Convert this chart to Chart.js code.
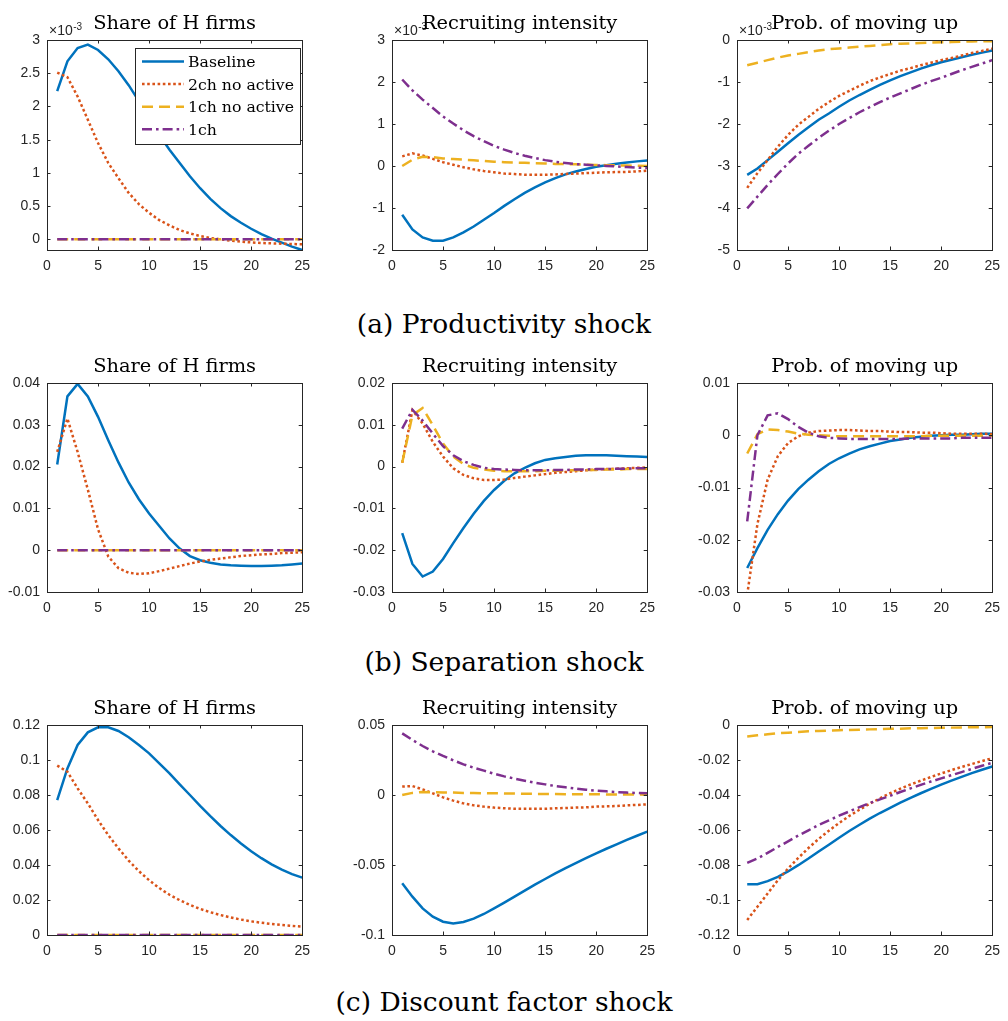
<!DOCTYPE html>
<html>
<head>
<meta charset="utf-8">
<script src="https://cdn.jsdelivr.net/npm/chart.js@4"></script>
<style>
html,body{margin:0;padding:0;background:#fff;}
#page{position:relative;width:1008px;height:1021px;overflow:hidden;background:#fff;}
#page canvas{position:absolute;}
.cap{position:absolute;left:0;width:1008px;text-align:center;font-family:"DejaVu Serif",serif;font-size:26.5px;line-height:26.5px;color:#000;white-space:nowrap;}
</style>
</head>
<body>
<div id="page">
  <div class="cap" style="top:310.6px">(a) Productivity shock</div>
  <div class="cap" style="top:648.6px">(b) Separation shock</div>
  <div class="cap" style="top:988.6px">(c) Discount factor shock</div>
</div>
<script>
// ---------- data ----------
const periods = [1,2,3,4,5,6,7,8,9,10,11,12,13,14,15,16,17,18,19,20,21,22,23,24,25];
const seriesNames = ['Baseline','2ch no active','1ch no active','1ch'];
const panelTitles = ['Share of H firms','Recruiting intensity','Prob. of moving up'];
const rowCaptions = ['(a) Productivity shock','(b) Separation shock','(c) Discount factor shock'];

// (a) Productivity shock  (values in units of 10^-3)
const prodShareBaseline = [2.23,2.68,2.88,2.93,2.85,2.71,2.53,2.32,2.08,1.83,1.57,1.35,1.15,0.95,0.77,0.61,0.47,0.35,0.25,0.16,0.08,0.01,-0.05,-0.11,-0.16];
const prodShare2chNoActive = [2.51,2.44,2.15,1.80,1.45,1.15,0.92,0.70,0.53,0.40,0.29,0.21,0.14,0.09,0.05,0.02,0.0,-0.02,-0.035,-0.045,-0.055,-0.06,-0.065,-0.07,-0.075];
const prodShare1chNoActive = [0,0,0,0,0,0,0,0,0,0,0,0,0,0,0,0,0,0,0,0,0,0,0,0,0];
const prodShare1ch = [0,0,0,0,0,0,0,0,0,0,0,0,0,0,0,0,0,0,0,0,0,0,0,0,0];

const prodRecBaseline = [-1.16,-1.51,-1.70,-1.78,-1.78,-1.70,-1.58,-1.44,-1.28,-1.12,-0.95,-0.79,-0.64,-0.51,-0.39,-0.29,-0.20,-0.13,-0.07,-0.02,0.02,0.055,0.085,0.11,0.13];
const prodRec2chNoActive = [0.23,0.30,0.25,0.17,0.09,0.03,-0.03,-0.08,-0.12,-0.15,-0.18,-0.19,-0.21,-0.21,-0.21,-0.20,-0.19,-0.18,-0.17,-0.16,-0.15,-0.145,-0.14,-0.13,-0.11];
const prodRec1chNoActive = [0.0,0.15,0.22,0.21,0.18,0.165,0.15,0.135,0.12,0.10,0.09,0.08,0.075,0.065,0.06,0.05,0.045,0.04,0.03,0.025,0.02,0.015,0.01,0.005,0.0];
const prodRec1ch = [2.06,1.80,1.58,1.38,1.18,1.01,0.85,0.71,0.59,0.48,0.39,0.31,0.245,0.19,0.14,0.10,0.07,0.045,0.03,0.015,0.0,-0.01,-0.025,-0.04,-0.05];

const prodUpBaseline = [-3.21,-3.06,-2.86,-2.66,-2.46,-2.26,-2.08,-1.90,-1.75,-1.59,-1.44,-1.31,-1.19,-1.07,-0.96,-0.86,-0.77,-0.68,-0.60,-0.53,-0.47,-0.41,-0.35,-0.30,-0.25];
const prodUp2chNoActive = [-3.52,-3.17,-2.86,-2.54,-2.26,-2.02,-1.83,-1.64,-1.48,-1.33,-1.21,-1.09,-0.98,-0.89,-0.81,-0.73,-0.67,-0.60,-0.54,-0.48,-0.43,-0.37,-0.31,-0.26,-0.21];
const prodUp1chNoActive = [-0.60,-0.54,-0.48,-0.42,-0.37,-0.33,-0.29,-0.25,-0.22,-0.20,-0.18,-0.16,-0.14,-0.12,-0.10,-0.09,-0.08,-0.07,-0.06,-0.055,-0.05,-0.04,-0.035,-0.03,-0.03];
const prodUp1ch = [-4.01,-3.73,-3.45,-3.19,-2.94,-2.71,-2.52,-2.33,-2.16,-2.00,-1.86,-1.72,-1.60,-1.48,-1.37,-1.27,-1.17,-1.07,-0.98,-0.90,-0.81,-0.72,-0.64,-0.56,-0.48];

// (b) Separation shock
const sepShareBaseline = [0.0205,0.0368,0.0398,0.0368,0.0319,0.0263,0.0210,0.0162,0.0122,0.0088,0.0058,0.0028,0.0004,-0.0014,-0.0024,-0.0030,-0.0034,-0.0036,-0.0037,-0.0038,-0.0038,-0.0037,-0.0036,-0.0034,-0.0032];
const sepShare2chNoActive = [0.0235,0.0315,0.0235,0.0145,0.0050,-0.0015,-0.0043,-0.0054,-0.0057,-0.0055,-0.0050,-0.0044,-0.0038,-0.0032,-0.0027,-0.0023,-0.0020,-0.0017,-0.0014,-0.0012,-0.0010,-0.0009,-0.0007,-0.0006,-0.0005];
const sepShare1chNoActive = [0,0,0,0,0,0,0,0,0,0,0,0,0,0,0,0,0,0,0,0,0,0,0,0,0];
const sepShare1ch = [0,0,0,0,0,0,0,0,0,0,0,0,0,0,0,0,0,0,0,0,0,0,0,0,0];

const sepRecBaseline = [-0.0159,-0.0233,-0.0263,-0.0251,-0.0221,-0.0183,-0.0147,-0.0113,-0.0082,-0.0056,-0.0034,-0.0016,-0.0003,0.0008,0.0016,0.0020,0.0023,0.0026,0.0027,0.0027,0.0027,0.0026,0.0025,0.0024,0.0023];
const sepRec2chNoActive = [0.0009,0.0135,0.0103,0.0059,0.0024,-0.0004,-0.0020,-0.0028,-0.0032,-0.0032,-0.0031,-0.0027,-0.0024,-0.0021,-0.0018,-0.0015,-0.0013,-0.0011,-0.0009,-0.0007,-0.0006,-0.0005,-0.0004,-0.0003,-0.0002];
const sepRec1chNoActive = [0.0009,0.0123,0.0140,0.0099,0.0055,0.0024,0.0006,-0.0003,-0.0007,-0.0010,-0.0011,-0.0011,-0.0011,-0.0011,-0.0010,-0.0010,-0.0009,-0.0009,-0.0008,-0.0008,-0.0007,-0.0007,-0.0006,-0.0006,-0.0006];
const sepRec1ch = [0.0091,0.0136,0.0110,0.0079,0.0049,0.0027,0.0013,0.0004,-0.0003,-0.0006,-0.0007,-0.0008,-0.0009,-0.0009,-0.0009,-0.0008,-0.0008,-0.0007,-0.0007,-0.0006,-0.0006,-0.0005,-0.0005,-0.0004,-0.0004];

const sepUpBaseline = [-0.0254,-0.0216,-0.0181,-0.0151,-0.0125,-0.0103,-0.0085,-0.0069,-0.0055,-0.0044,-0.0035,-0.0027,-0.0021,-0.0016,-0.0011,-0.0008,-0.0005,-0.0003,-0.0001,0.0000,0.0001,0.0001,0.0002,0.0003,0.0003];
const sepUp2chNoActive = [-0.0305,-0.0170,-0.0085,-0.0040,-0.0015,-0.0002,0.0005,0.0008,0.0009,0.0010,0.0010,0.0009,0.0008,0.0008,0.0007,0.0006,0.0006,0.0005,0.0005,0.0004,0.0003,0.0003,0.0003,0.0003,0.0002];
const sepUp1chNoActive = [-0.0035,0.0002,0.0011,0.0010,0.0007,0.0003,0.0001,0.0000,-0.0001,-0.0002,-0.0002,-0.0002,-0.0002,-0.0002,-0.0002,-0.0002,-0.0002,-0.0002,-0.0001,-0.0001,-0.0001,-0.0001,-0.0001,-0.0001,-0.0001];
const sepUp1ch = [-0.0165,0.0000,0.0038,0.0042,0.0031,0.0016,0.0005,-0.0002,-0.0005,-0.0006,-0.0007,-0.0007,-0.0007,-0.0007,-0.0007,-0.0007,-0.0006,-0.0006,-0.0006,-0.0006,-0.0006,-0.0005,-0.0005,-0.0005,-0.0005];

// (c) Discount factor shock
const discShareBaseline = [0.0771,0.0952,0.1086,0.1158,0.1187,0.1187,0.1166,0.1130,0.1086,0.1038,0.0981,0.0924,0.0861,0.0800,0.0738,0.0679,0.0623,0.0571,0.0523,0.0479,0.0439,0.0404,0.0373,0.0348,0.0328];
const discShare2chNoActive = [0.0968,0.0933,0.0838,0.0752,0.0657,0.0571,0.0495,0.0425,0.0365,0.0313,0.0268,0.0230,0.0199,0.0172,0.0149,0.0130,0.0114,0.0100,0.0088,0.0078,0.0070,0.0063,0.0057,0.0052,0.0048];
const discShare1chNoActive = [0,0,0,0,0,0,0,0,0,0,0,0,0,0,0,0,0,0,0,0,0,0,0,0,0];
const discShare1ch = [0,0,0,0,0,0,0,0,0,0,0,0,0,0,0,0,0,0,0,0,0,0,0,0,0];

const discRecBaseline = [-0.0631,-0.0726,-0.0810,-0.0869,-0.0905,-0.0917,-0.0907,-0.0883,-0.0850,-0.0810,-0.0769,-0.0726,-0.0683,-0.0640,-0.0600,-0.0560,-0.0522,-0.0486,-0.0451,-0.0417,-0.0384,-0.0352,-0.0321,-0.0291,-0.0262];
const discRec2chNoActive = [0.0060,0.0064,0.0040,0.0012,-0.0017,-0.0040,-0.0060,-0.0074,-0.0083,-0.0090,-0.0095,-0.0098,-0.0098,-0.0098,-0.0098,-0.0095,-0.0093,-0.0090,-0.0088,-0.0083,-0.0081,-0.0079,-0.0074,-0.0071,-0.0067];
const discRec1chNoActive = [0.0,0.0015,0.0021,0.0020,0.0018,0.0017,0.0015,0.0014,0.0013,0.0012,0.0011,0.0010,0.0009,0.0008,0.0008,0.0007,0.0006,0.0006,0.0005,0.0005,0.0004,0.0004,0.0003,0.0003,0.0002];
const discRec1ch = [0.0440,0.0393,0.0350,0.0312,0.0279,0.0248,0.0219,0.0195,0.0174,0.0152,0.0133,0.0117,0.0102,0.0088,0.0076,0.0064,0.0055,0.0045,0.0038,0.0031,0.0026,0.0021,0.0017,0.0014,0.0012];

const discUpBaseline = [-0.0910,-0.0910,-0.0892,-0.0868,-0.0837,-0.0801,-0.0763,-0.0723,-0.0684,-0.0644,-0.0606,-0.0570,-0.0535,-0.0503,-0.0473,-0.0444,-0.0416,-0.0390,-0.0365,-0.0341,-0.0318,-0.0296,-0.0275,-0.0256,-0.0237];
const discUp2chNoActive = [-0.1114,-0.1039,-0.0963,-0.0887,-0.0820,-0.0760,-0.0703,-0.0651,-0.0604,-0.0560,-0.0520,-0.0484,-0.0450,-0.0419,-0.0390,-0.0364,-0.0340,-0.0318,-0.0297,-0.0277,-0.0258,-0.0240,-0.0223,-0.0206,-0.0190];
const discUp1chNoActive = [-0.0066,-0.0059,-0.0053,-0.0047,-0.0044,-0.0040,-0.0036,-0.0034,-0.0032,-0.0030,-0.0028,-0.0027,-0.0025,-0.0023,-0.0022,-0.0021,-0.0019,-0.0018,-0.0017,-0.0016,-0.0015,-0.0014,-0.0013,-0.0013,-0.0012];
const discUp1ch = [-0.0788,-0.0763,-0.0731,-0.0697,-0.0665,-0.0632,-0.0602,-0.0571,-0.0545,-0.0518,-0.0494,-0.0469,-0.0446,-0.0425,-0.0404,-0.0383,-0.0362,-0.0342,-0.0323,-0.0305,-0.0287,-0.0269,-0.0251,-0.0233,-0.0216];

// axis ranges and tick steps per panel [row][col]
const yMin  = [[-0.16,-2,-5],[-0.01,-0.03,-0.03],[0,-0.1,-0.12]];
const yMax  = [[3,3,0],[0.04,0.02,0.01],[0.12,0.05,0]];
const yStep = [[0.5,1,1],[0.01,0.01,0.01],[0.02,0.05,0.02]];
const yExponent = [['-3','-3','-3'],[null,null,null],[null,null,null]];
const xTicks = [0,5,10,15,20,25];

const panelSeries = [
  [[prodShareBaseline,prodShare2chNoActive,prodShare1chNoActive,prodShare1ch],
   [prodRecBaseline,prodRec2chNoActive,prodRec1chNoActive,prodRec1ch],
   [prodUpBaseline,prodUp2chNoActive,prodUp1chNoActive,prodUp1ch]],
  [[sepShareBaseline,sepShare2chNoActive,sepShare1chNoActive,sepShare1ch],
   [sepRecBaseline,sepRec2chNoActive,sepRec1chNoActive,sepRec1ch],
   [sepUpBaseline,sepUp2chNoActive,sepUp1chNoActive,sepUp1ch]],
  [[discShareBaseline,discShare2chNoActive,discShare1chNoActive,discShare1ch],
   [discRecBaseline,discRec2chNoActive,discRec1chNoActive,discRec1ch],
   [discUpBaseline,discUp2chNoActive,discUp1chNoActive,discUp1ch]]
];

// ---------- styles / layout ----------
const seriesColors = ['#0072BD','#D95319','#EDB120','#7E2F8E'];
const seriesDash = [[], [2.6,2.6], [11,6], [10,4,2.6,4]];
const plotLefts = [47,392,737];
const plotTops = [40,383,725];
const plotHeights = [210,209,210];
const plotWidth = 262;
const axisColor = '#262626';
const tickFont = {family:'"Liberation Sans", Arial, sans-serif', size:14};

const matlabAxes = {
  id: 'matlabAxes',
  afterDatasetsDraw(chart, args, opts) {
    const ctx = chart.ctx, a = chart.chartArea;
    const xs = chart.scales.x, ys = chart.scales.y;
    ctx.save();
    ctx.strokeStyle = axisColor;
    ctx.lineWidth = 1;
    ctx.setLineDash([]);
    ctx.strokeRect(Math.round(a.left)+0.5, Math.round(a.top)+0.5, Math.round(a.right-a.left), Math.round(a.bottom-a.top));
    const tl = 3.5;
    ctx.beginPath();
    xs.ticks.forEach(t => {
      const px = Math.round(xs.getPixelForValue(t.value)) + 0.5;
      ctx.moveTo(px, a.bottom); ctx.lineTo(px, a.bottom - tl);
      ctx.moveTo(px, a.top); ctx.lineTo(px, a.top + tl);
    });
    ys.ticks.forEach(t => {
      const py = Math.round(ys.getPixelForValue(t.value)) + 0.5;
      ctx.moveTo(a.left, py); ctx.lineTo(a.left + tl, py);
      ctx.moveTo(a.right, py); ctx.lineTo(a.right - tl, py);
    });
    ctx.stroke();
    ctx.restore();
  },
  afterDraw(chart, args, opts) {
    const ctx = chart.ctx, a = chart.chartArea;
    ctx.save();
    // exponent label
    if (opts.exponent) {
      ctx.fillStyle = axisColor;
      ctx.textBaseline = 'alphabetic';
      ctx.textAlign = 'left';
      ctx.font = '14px "Liberation Sans", Arial, sans-serif';
      const base = '\u00d710';
      ctx.fillText(base, a.left + 2, a.top - 5);
      const w = ctx.measureText(base).width;
      ctx.font = '10px "Liberation Sans", Arial, sans-serif';
      ctx.fillText(opts.exponent, a.left + 2 + w + 0.5, a.top - 10.5);
    }
    // title
    ctx.fillStyle = '#000';
    ctx.textAlign = 'center';
    ctx.textBaseline = 'alphabetic';
    ctx.font = '19.4px "DejaVu Serif", serif';
    ctx.fillText(opts.title, (a.left + a.right) / 2, a.top - 11);
    // legend
    if (opts.legend) {
      const bx = a.left + 88, by = a.top + 8, bw = 165, bh = 96;
      ctx.fillStyle = '#fff';
      ctx.fillRect(bx, by, bw, bh);
      ctx.strokeStyle = axisColor;
      ctx.lineWidth = 1;
      ctx.setLineDash([]);
      ctx.strokeRect(bx + 0.5, by + 0.5, bw, bh);
      chart.data.datasets.forEach((ds, i) => {
        const y = by + 13.5 + i * 22.6;
        ctx.strokeStyle = ds.borderColor;
        ctx.lineWidth = ds.borderWidth;
        ctx.setLineDash(ds.borderDash || []);
        ctx.beginPath();
        ctx.moveTo(bx + 7, y); ctx.lineTo(bx + 49, y);
        ctx.stroke();
        ctx.setLineDash([]);
        ctx.fillStyle = '#000';
        ctx.textAlign = 'left';
        ctx.font = '15.7px "DejaVu Serif", serif';
        ctx.fillText(ds.label, bx + 53, y + 5.5);
      });
    }
    ctx.restore();
  }
};

function fmtTick(v) {
  const r = Math.round(v * 1e6) / 1e6;
  return String(r === 0 ? 0 : r);
}

const page = document.getElementById('page');
for (let r = 0; r < 3; r++) {
  for (let c = 0; c < 3; c++) {
    const cv = document.createElement('canvas');
    const w = 47 + plotWidth + 9;
    const h = 40 + plotHeights[r] + 32;
    cv.width = w; cv.height = h;
    cv.style.width = w + 'px'; cv.style.height = h + 'px';
    cv.style.left = (plotLefts[c] - 47) + 'px';
    cv.style.top = (plotTops[r] - 40) + 'px';
    page.appendChild(cv);
    const series = panelSeries[r][c];
    new Chart(cv.getContext('2d'), {
      type: 'line',
      data: {
        labels: periods,
        datasets: series.map((vals, i) => ({
          label: seriesNames[i],
          data: vals,
          borderColor: seriesColors[i],
          backgroundColor: seriesColors[i],
          borderWidth: 2.5,
          borderDash: seriesDash[i],
          pointRadius: 0,
          tension: 0,
          fill: false,
          order: 4 - i
        }))
      },
      options: {
        responsive: false,
        animation: false,
        devicePixelRatio: 1,
        layout: {padding: {left: 0, right: 9, top: 40, bottom: 0}},
        plugins: {
          legend: {display: false},
          tooltip: {enabled: false},
          title: {display: false},
          matlabAxes: {title: panelTitles[c], exponent: yExponent[r][c], legend: (r === 0 && c === 0)}
        },
        scales: {
          x: {
            type: 'linear', min: 0, max: 25,
            afterBuildTicks(s) { s.ticks = xTicks.map(v => ({value: v})); },
            ticks: {stepSize: 5, color: axisColor, font: tickFont, padding: 8, maxRotation: 0, autoSkip: false, includeBounds: false},
            grid: {display: false, drawTicks: false},
            border: {display: false},
            afterFit(s) { s.height = 32; }
          },
          y: {
            type: 'linear', min: yMin[r][c], max: yMax[r][c],
            ticks: {stepSize: yStep[r][c], color: axisColor, font: tickFont, padding: 7, autoSkip: false, includeBounds: false, callback: fmtTick},
            grid: {display: false, drawTicks: false},
            border: {display: false},
            afterFit(s) { s.width = 47; }
          }
        }
      },
      plugins: [matlabAxes]
    });
  }
}
</script>
</body>
</html>
